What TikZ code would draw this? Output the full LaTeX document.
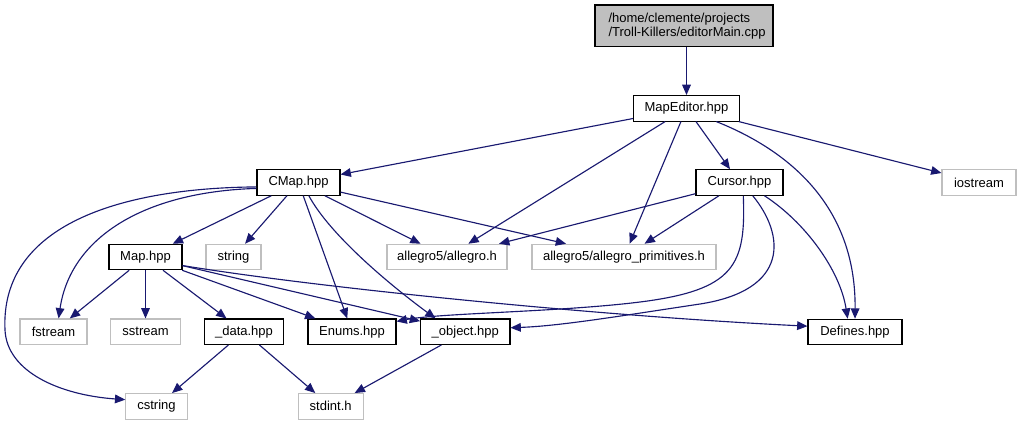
\documentclass[tikz,border=0pt]{standalone}
\usepackage{fontspec}
\setmainfont{Liberation Sans}
\usetikzlibrary{arrows.meta}
\definecolor{edgec}{HTML}{191970}
\definecolor{greyb}{HTML}{BFBFBF}
\begin{document}
\begin{tikzpicture}[x=0.75pt,y=-0.75pt,
  box/.style={draw=black,line width=0.8pt,inner sep=0pt,minimum height=19.1pt,
    font=\fontsize{9.75}{10.5}\selectfont},
  ext/.style={box,draw=greyb},
  rootbox/.style={box,fill=greyb,minimum height=31.1pt,align=left},
  edge/.style={draw=edgec,line width=0.85pt,-{Triangle[length=7.75pt,width=6.5pt]}}
]
\useasboundingbox (0,0) rectangle (1019,425);
% nodes
\node[rootbox,minimum width=133.5pt] (main) at (684,25.75) {\hspace*{4.5pt}/home/clemente/projects\\\hspace*{4.5pt}/Troll-Killers/editorMain.cpp};
\node[box,minimum width=79.5pt] (MapEditor) at (686.5,108.3) {MapEditor.hpp};
\node[box,minimum width=62.25pt] (CMap) at (298.5,182.5) {CMap.hpp};
\node[box,minimum width=65.25pt] (Cursor) at (739.5,182.5) {Cursor.hpp};
\node[ext,minimum width=55.5pt] (iostream) at (979,182.5) {iostream};
\node[box,minimum width=54.75pt] (Map) at (145.5,257) {Map.hpp};
\node[ext,minimum width=41.25pt] (string) at (233.5,257) {string};
\node[ext,minimum width=90pt] (allegro) at (447,257) {allegro5/allegro.h};
\node[ext,minimum width=138pt] (prim) at (624,257) {allegro5/allegro\_primitives.h};
\node[ext,minimum width=50.25pt] (fstream) at (53.5,331.7) {fstream};
\node[ext,minimum width=52pt] (sstream) at (145.5,331.7) {sstream};
\node[box,minimum width=59.5pt] (data) at (244,331.7) {\_data.hpp};
\node[box,minimum width=66pt] (Enums) at (352,331.7) {Enums.hpp};
\node[box,minimum width=67pt] (object) at (465.3,331.7) {\_object.hpp};
\node[box,minimum width=70.5pt] (Defines) at (855,332) {Defines.hpp};
\node[ext,minimum width=46pt] (cstring) at (156.5,406.3) {cstring};
\node[ext,minimum width=49pt] (stdint) at (330.7,406.3) {stdint.h};
\coordinate (cbend) at (5,330);
% edges
\draw[edge] (main.south -| MapEditor.north) -- (MapEditor.north);
\draw[edge] (MapEditor) -- (CMap);
\draw[edge] (MapEditor) -- (allegro);
\draw[edge] (MapEditor) -- (prim);
\draw[edge] (MapEditor) -- (Cursor);
\draw[edge] (MapEditor.-24.5) .. controls (800,155) and (856,215) .. (Defines.90);
\draw[edge] (MapEditor) -- (iostream);
\draw[edge] (CMap) -- (Map);
\draw[edge] (CMap) -- (string);
\draw[edge] (CMap.188) .. controls (140,192) and (70,240) .. (fstream.69);
\draw[edge] (CMap.186) .. controls (120,188) and (0,225) .. (cbend) .. controls (7,372) and (60,395) .. (cstring.168.4);
\draw[edge] (CMap) -- (Enums);
\draw[edge] (CMap.-52.8) .. controls (330,235) and (390,285) .. (object.156.3);
\draw[edge] (CMap) -- (allegro);
\draw[edge] (CMap) -- (prim);
\draw[edge] (Map) -- (fstream);
\draw[edge] (Map) -- (sstream);
\draw[edge] (Map) -- (data);
\draw[edge] (Map) -- (Enums);
\draw[edge] (Map) -- (object);
\draw[edge] (Map.-13.9) .. controls (320,288) and (600,316) .. (Defines.173.9);
\draw[edge] (Cursor) -- (allegro);
\draw[edge] (Cursor) -- (prim);
\draw[edge] (Cursor.-74.6) .. controls (746,265) and (735,290) .. (640,302) .. controls (560,312) and (440,313) .. (Enums.13.7);
\draw[edge] (Cursor.-45.6) .. controls (785,235) and (790,290) .. (700,304) .. controls (620,316) and (560,326) .. (object.5.4);
\draw[edge] (Cursor.-28.5) .. controls (805,222) and (840,270) .. (Defines.119.2);
\draw[edge] (data) -- (cstring);
\draw[edge] (data) -- (stdint);
\draw[edge] (object) -- (stdint);
\end{tikzpicture}
\end{document}
